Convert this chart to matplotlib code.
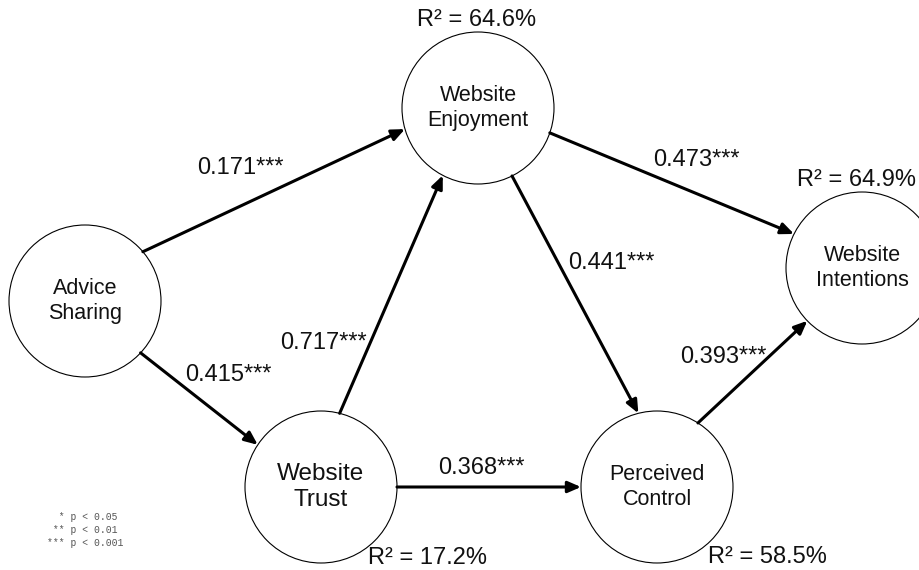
import numpy as np
import matplotlib.pyplot as plt
from matplotlib.patches import Circle, FancyArrowPatch

plt.rcParams['font.family'] = ['Liberation Sans', 'DejaVu Sans']

# constructs and explained variance (R2, %)
constructs = ['Advice\nSharing', 'Website\nEnjoyment', 'Website\nTrust',
              'Perceived\nControl', 'Website\nIntentions']
r_squared = [None, 64.6, 17.2, 58.5, 64.9]

# structural paths: source, target, coefficient, significance
path_from = [0, 0, 2, 1, 1, 2, 3]
path_to = [1, 2, 1, 4, 3, 3, 4]
path_coef = [0.171, 0.415, 0.717, 0.473, 0.441, 0.368, 0.393]
path_stars = ['***', '***', '***', '***', '***', '***', '***']

# significance legend
sig_stars = ['*', '**', '***']
sig_p = ['0.05', '0.01', '0.001']

# --- layout (pixels, y down) ---
node_xy = [(85, 301), (478, 108), (321, 487), (657, 487), (862, 268)]
node_r = 76
node_fs = [15.5, 15.5, 17.5, 15.5, 15.5]
r2_xy = [None, (417, 20), (368, 558), (708, 557), (797, 180)]
# where each arrow leaves / meets the circles (degrees, y down)
port_start = [-40.4, 43, -75.8, 19.1, 63.4, 0, -57.4]
port_end = [163.9, -146.3, 117.6, -153.4, -104.2, 180, 136]
label_xy = [(197, 168), (185, 375), (280, 343), (653, 160),
            (568, 263), (438, 468), (680, 357)]

fig = plt.figure(figsize=(9.19, 5.70), dpi=100)
ax = fig.add_axes([0, 0, 1, 1])
ax.set_xlim(0, 919)
ax.set_ylim(570, 0)
ax.axis('off')


def on_circle(i, angle):
    cx, cy = node_xy[i]
    a = np.deg2rad(angle)
    return cx + node_r * np.cos(a), cy + node_r * np.sin(a)


# Draw the constructs
for i, name in enumerate(constructs):
    ax.add_patch(Circle(node_xy[i], node_r, facecolor='white',
                        edgecolor='black', lw=0.8, zorder=2))
    ax.text(node_xy[i][0], node_xy[i][1], name, ha='center', va='center',
            fontsize=node_fs[i], color='#111111', linespacing=1.25, zorder=4)
    if r_squared[i] is not None:
        ax.text(r2_xy[i][0], r2_xy[i][1], f'R\u00b2 = {r_squared[i]:.1f}%',
                ha='left', va='center', fontsize=17, color='#111111')

# Draw the paths
for k in range(len(path_coef)):
    p0 = on_circle(path_from[k], port_start[k])
    p1 = on_circle(path_to[k], port_end[k])
    arrow = FancyArrowPatch(p0, p1,
                            arrowstyle='-|>,head_length=0.6,head_width=0.26',
                            mutation_scale=13, lw=2.2, color='black',
                            shrinkA=0, shrinkB=0, zorder=3)
    ax.add_patch(arrow)
    ax.text(label_xy[k][0], label_xy[k][1],
            f'{path_coef[k]:.3f}{path_stars[k]}',
            ha='left', va='center', fontsize=17, color='#111111')

# Significance legend
for j in range(len(sig_stars)):
    ax.text(47, 517 + 13 * j, f'{sig_stars[j]:>3} p < {sig_p[j]}',
            ha='left', va='center', fontsize=7,
            family='Liberation Mono', color='#555555')

plt.savefig('out.png', dpi=100)
